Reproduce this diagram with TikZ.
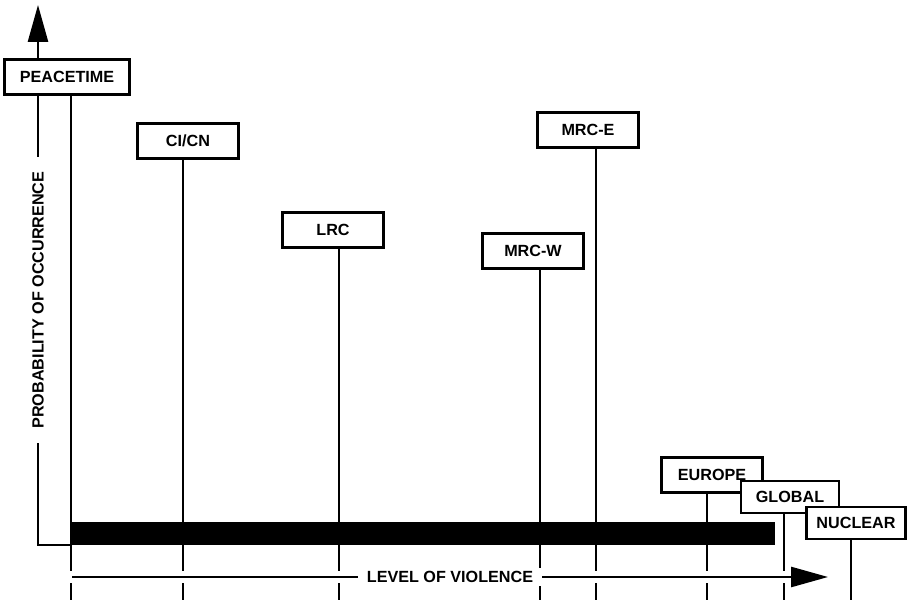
\documentclass[tikz,border=0pt]{standalone}
\usepackage{fontspec}
\setmainfont{Liberation Sans}
\usetikzlibrary{positioning, arrows.meta, backgrounds}
\tikzset{
  BX/.style={draw,fill=white,line width=2pt,rectangle,minimum width=2.525cm,minimum height=0.875cm,font=\fontsize{11.5}{12}\selectfont\bfseries,inner sep=2pt},
  ST/.style={line width=1.6pt},
  AX/.style={line width=1.6pt},
  AL/.style={font=\fontsize{11.5}{12}\selectfont\bfseries,fill=white,inner ysep=2pt},
  TIP/.style={-{Triangle[length=0.92cm,width=0.5cm]}},
}

\begin{document}
\begin{tikzpicture}[x=0.025cm,y=-0.025cm]
\useasboundingbox (0,0) rectangle (907,603);

% Scenario boxes
\node[BX,minimum width=3.125cm](peace) at (67,77){PEACETIME};
\node[BX](cicn)   at (188,141){CI/CN};
\node[BX](lrc)    at (333,230){LRC};
\node[BX](mrcw)   at (533,251){MRC-W};
\node[BX](mrce)   at (588,130){MRC-E};
\node[BX](europe) at (712,475){EUROPE};
\node[BX,minimum width=2.45cm,minimum height=0.8cm](global)   at (790,497){GLOBAL};
\node[BX,minimum width=2.475cm,minimum height=0.8cm](nuclear) at (856,523){NUCLEAR};

% Axes
\coordinate (origin) at (38,545);
\coordinate (corner) at (72,545);
\coordinate (ytip)   at (38,5);
\coordinate (xstart) at (72,577);
\coordinate (xtip)   at (828,577);
\node[AL,rotate=90,inner xsep=10pt](ylab) at (38,300){PROBABILITY OF OCCURRENCE};

\begin{pgfonlayer}{background}
  % stems down to the foot of the picture
  \foreach \n/\x in {peace/71,cicn/183,lrc/339,mrcw/540,mrce/596,europe/707,global/784,nuclear/851}{
    \coordinate (\n-foot) at (\x,600);
    \draw[ST] (\n-foot |- \n.south) -- (\n-foot);
  }
  % bar
  \fill (72,522) rectangle (775,545);
  % gap round the x axis
  \draw[white,line width=9pt,shorten <=-3pt] (xstart) -- (xtip);
  \draw[AX,TIP] (corner) -- (origin) -- (ytip);
\end{pgfonlayer}

\draw[AX,TIP] (xstart) -- node[AL,inner xsep=6pt](xlab){LEVEL OF VIOLENCE} (xtip);

\end{tikzpicture}
\end{document}
